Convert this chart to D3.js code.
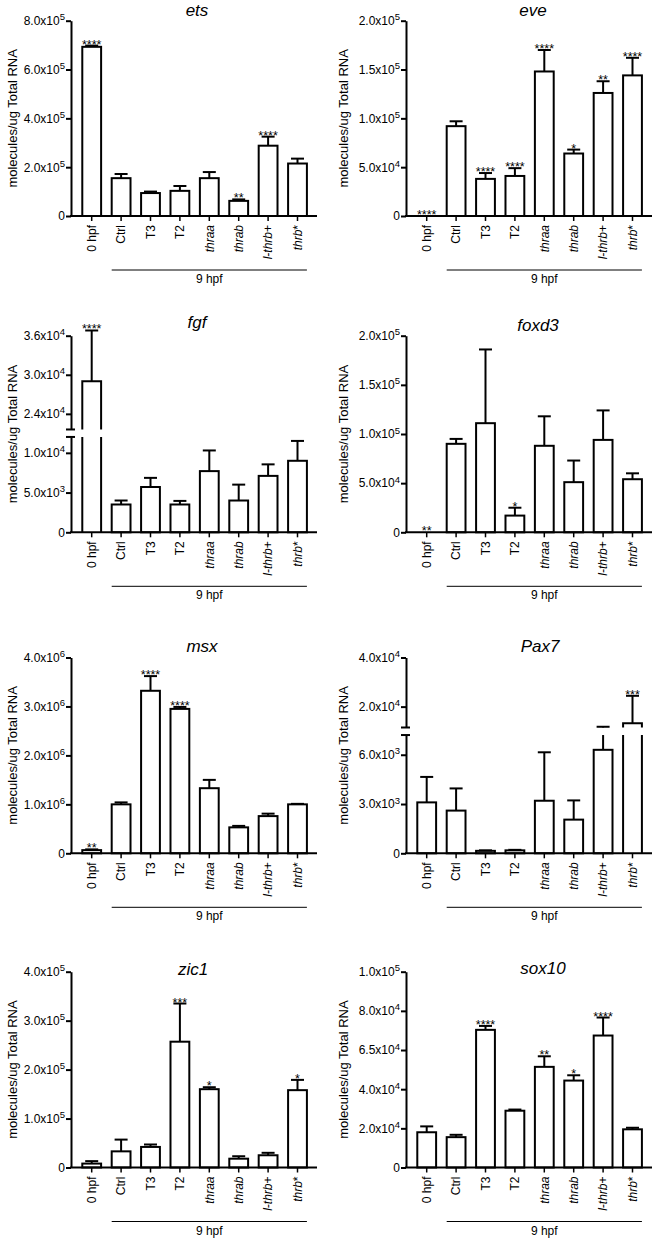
<!DOCTYPE html>
<html><head><meta charset="utf-8">
<script src="https://cdn.jsdelivr.net/npm/d3@7"></script>
<style>
body{margin:0;background:#fff}
svg{display:block;background:#fff}
text{font-family:"Liberation Sans",Arial,Helvetica,sans-serif;fill:#000}
</style>
</head><body>
<svg id="chart" width="655" height="1240"></svg>
<script>
// ---------------- DATA ----------------
const categories = ["0 hpf","Ctrl","T3","T2","thraa","thrab","l-thrb+","thrb*"];
const genes = ["ets","eve","fgf","foxd3","msx","Pax7","zic1","sox10"];
const groupLabel = "9 hpf";
const yAxisTitle = "molecules/ug Total RNA";

const etsMean = [693000,155000,94000,103000,155000,62000,288000,215000];
const etsErr  = [5000,17000,6000,20000,25000,6000,37000,20000];
const etsSig  = ["****","","","","","**","****",""];
const etsDomain = [[0,800000]];
const etsTicks = [[0,200000,400000,600000,800000]];
const etsTickLabels = [["0","2.0x10^5","4.0x10^5","6.0x10^5","8.0x10^5"]];

const eveMean = [0,92000,38000,41000,148000,64000,126000,144000];
const eveErr  = [0,5000,6000,8000,22000,4000,12000,18000];
const eveSig  = ["****","","****","****","****","*","**","****"];
const eveDomain = [[0,200000]];
const eveTicks = [[0,50000,100000,150000,200000]];
const eveTickLabels = [["0","5.0x10^4","1.0x10^5","1.5x10^5","2.0x10^5"]];

const fgfMean = [29000,3500,5700,3500,7700,4000,7100,9000];
const fgfErr  = [7800,500,1150,450,2600,2000,1450,2500];
const fgfSig  = ["****","","","","","","",""];
const fgfDomain = [[0,12000],[21600,36000]];
const fgfTicks = [[0,5000,10000],[24000,30000,36000]];
const fgfTickLabels = [["0","5.0x10^3","1.0x10^4"],["2.4x10^4","3.0x10^4","3.6x10^4"]];

const foxd3Mean = [0,90000,111000,17000,88000,51000,94000,54000];
const foxd3Err  = [0,5000,75000,8000,30000,22000,30000,6000];
const foxd3Sig  = ["**","","","*","","","",""];
const foxd3Domain = [[0,200000]];
const foxd3Ticks = [[0,50000,100000,150000,200000]];
const foxd3TickLabels = [["0","5.0x10^4","1.0x10^5","1.5x10^5","2.0x10^5"]];

const msxMean = [65000,1000000,3320000,2950000,1330000,530000,760000,1000000];
const msxErr  = [15000,40000,300000,40000,170000,30000,50000,10000];
const msxSig  = ["**","","****","****","","","",""];
const msxDomain = [[0,4000000]];
const msxTicks = [[0,1000000,2000000,3000000,4000000]];
const msxTickLabels = [["0","1.0x10^6","2.0x10^6","3.0x10^6","4.0x10^6"]];

const pax7Mean = [3100,2600,150,180,3200,2050,6300,13200];
const pax7Err  = [1550,1350,30,30,2950,1170,5500,11200];
const pax7Sig  = ["","","","","","","","***"];
const pax7Domain = [[0,7200],[11500,40000]];
const pax7Ticks = [[0,3000,6000],[20000,40000]];
const pax7TickLabels = [["0","3.0x10^3","6.0x10^3"],["2.0x10^4","4.0x10^4"]];

const zic1Mean = [8000,33000,42000,257000,160000,18000,25000,158000];
const zic1Err  = [5000,24000,5000,78000,4000,5000,5000,21000];
const zic1Sig  = ["","","","***","*","","","*"];
const zic1Domain = [[0,400000]];
const zic1Ticks = [[0,100000,200000,300000,400000]];
const zic1TickLabels = [["0","1.0x10^5","2.0x10^5","3.0x10^5","4.0x10^5"]];

const sox10Mean = [18000,15500,70300,29000,51400,44400,67400,19500];
const sox10Err  = [3000,1200,2000,600,5400,2700,9200,800];
const sox10Sig  = ["","","****","","**","*","****",""];
const sox10Domain = [[0,100000]];
const sox10Ticks = [[0,20000,40000,60000,80000,100000]];
const sox10TickLabels = [["0","2.0x10^4","4.0x10^4","6.5x10^4","8.0x10^4","1.0x10^5"]];

// ---------------- LAYOUT ----------------
const panels = [
  {mean:etsMean, err:etsErr, sig:etsSig, dom:etsDomain, ticks:etsTicks, tl:etsTickLabels},
  {mean:eveMean, err:eveErr, sig:eveSig, dom:eveDomain, ticks:eveTicks, tl:eveTickLabels},
  {mean:fgfMean, err:fgfErr, sig:fgfSig, dom:fgfDomain, ticks:fgfTicks, tl:fgfTickLabels, brk:[0.485,0.523]},
  {mean:foxd3Mean, err:foxd3Err, sig:foxd3Sig, dom:foxd3Domain, ticks:foxd3Ticks, tl:foxd3TickLabels},
  {mean:msxMean, err:msxErr, sig:msxSig, dom:msxDomain, ticks:msxTicks, tl:msxTickLabels},
  {mean:pax7Mean, err:pax7Err, sig:pax7Sig, dom:pax7Domain, ticks:pax7Ticks, tl:pax7TickLabels, brk:[0.604,0.6425]},
  {mean:zic1Mean, err:zic1Err, sig:zic1Sig, dom:zic1Domain, ticks:zic1Ticks, tl:zic1TickLabels},
  {mean:sox10Mean, err:sox10Err, sig:sox10Sig, dom:sox10Domain, ticks:sox10Ticks, tl:sox10TickLabels}
];
const colX = [71, 406];
const yLabelX = [17, 348];
const rowBase = [216, 532.3, 853.3, 1167.5];
const rowTop = [20.7, 335.7, 657.5, 971.7];
const titlePos = [[197,15.5],[533,15.5],[197,327.5],[538,330.5],[202,651.5],[540,651.5],[193,975],[543,973.5]];
const AX_LEN = 246, SW = 2;

const svg = d3.select("#chart");
svg.append("rect").attr("width",655).attr("height",1240).attr("fill","#fff");

function superscriptLabel(sel, lab){
  const parts = lab.split("^");
  sel.text(parts[0]);
  if (parts[1]) sel.append("tspan").attr("dy","-0.5em").attr("font-size","9.5px").text(parts[1]);
}
function catLabel(sel, lab){
  sel.text(null);
  const re = /(l-thrb|thraa|thrab|thrb)/;
  lab.split(re).filter(s=>s.length).forEach(s=>{
    sel.append("tspan").attr("font-style", re.test(s) ? "italic" : "normal").text(s);
  });
}

panels.forEach((p,i)=>{
  const col = i%2, row = Math.floor(i/2);
  const ax = colX[col], base = rowBase[row], top = rowTop[row], H = base-top;
  const g = svg.append("g");

  let segs;
  if (p.dom.length===1){
    segs = [d3.scaleLinear().domain(p.dom[0]).range([base, top])];
  } else {
    segs = [d3.scaleLinear().domain(p.dom[0]).range([base, base-H*p.brk[0]]),
            d3.scaleLinear().domain(p.dom[1]).range([base-H*p.brk[1], top])];
  }
  const segIdx = v => (segs.length===1 || v<=p.dom[0][1]) ? 0 : 1;
  const y = v => segs[segIdx(v)](v);

  const x = d3.scaleBand().domain(categories).range([ax+6, ax+241.2]).paddingInner(0.36).paddingOuter(0.18);
  const bw = x.bandwidth();

  categories.forEach((c,k)=>{
    const v = p.mean[k], e = p.err[k];
    const x0 = x(c), x1 = x0+bw, cx = x0+bw/2;
    if (v>0){
      if (segIdx(v)===0){
        g.append("rect").attr("x",x0).attr("y",y(v)).attr("width",bw).attr("height",base-y(v))
          .attr("fill","#fff").attr("stroke","#000").attr("stroke-width",SW);
      } else {
        const lt = segs[0].range()[1], ub = segs[1].range()[0];
        g.append("rect").attr("x",x0).attr("y",lt).attr("width",bw).attr("height",base-lt).attr("fill","#fff");
        g.append("path").attr("d",`M${x0},${base}V${lt}M${x1},${lt}V${base}`)
          .attr("fill","none").attr("stroke","#000").attr("stroke-width",SW);
        g.append("path").attr("d",`M${x0},${ub}V${y(v)}H${x1}V${ub}`)
          .attr("fill","#fff").attr("stroke","#000").attr("stroke-width",SW);
      }
    }
    let capY = y(v);
    if (e>0){
      const t = v+e;
      capY = y(t);
      if (segIdx(v)===segIdx(t)){
        g.append("line").attr("x1",cx).attr("x2",cx).attr("y1",y(v)).attr("y2",capY)
          .attr("stroke","#000").attr("stroke-width",SW);
      } else {
        const lt = segs[0].range()[1], ub = segs[1].range()[0];
        g.append("line").attr("x1",cx).attr("x2",cx).attr("y1",y(v)).attr("y2",lt)
          .attr("stroke","#000").attr("stroke-width",SW);
        g.append("line").attr("x1",cx).attr("x2",cx).attr("y1",ub).attr("y2",capY)
          .attr("stroke","#000").attr("stroke-width",SW);
      }
      g.append("line").attr("x1",cx-6.5).attr("x2",cx+6.5).attr("y1",capY).attr("y2",capY)
        .attr("stroke","#000").attr("stroke-width",SW);
    }
    if (p.sig[k]){
      g.append("text").attr("x",cx).attr("y",capY+3).attr("text-anchor","middle")
        .attr("font-size","12.5px").text(p.sig[k]);
    }
  });

  segs.forEach((s,si)=>{
    const ag = g.append("g").attr("transform",`translate(${ax},0)`)
      .call(d3.axisLeft(s).tickValues(p.ticks[si]).tickSize(5).tickSizeOuter(0).tickPadding(1));
    ag.select(".domain").attr("stroke-width",SW);
    ag.selectAll(".tick line").attr("stroke-width",SW);
    ag.attr("font-size",12).attr("font-family",null);
    ag.selectAll(".tick text").each(function(d,j){ superscriptLabel(d3.select(this), p.tl[si][j]); });
  });
  if (segs.length>1){
    [segs[0].range()[1], segs[1].range()[0]].forEach(by=>{
      g.append("line").attr("x1",ax-5).attr("x2",ax+4).attr("y1",by).attr("y2",by)
        .attr("stroke","#000").attr("stroke-width",SW);
    });
  }

  g.append("line").attr("x1",ax-1).attr("x2",ax+AX_LEN).attr("y1",base).attr("y2",base)
    .attr("stroke","#000").attr("stroke-width",SW);
  const xg = g.append("g").attr("transform",`translate(0,${base})`)
    .call(d3.axisBottom(x).tickSize(5).tickSizeOuter(0));
  xg.select(".domain").remove();
  xg.selectAll(".tick line").attr("stroke-width",1.5);
  xg.attr("font-size",12).attr("font-family",null);
  xg.selectAll(".tick text")
    .attr("transform","rotate(-90)").attr("x",-9).attr("y",0).attr("dy","0.35em")
    .attr("text-anchor","end")
    .each(function(d){ catLabel(d3.select(this), d); });

  const gx0 = x(categories[1]), gx1 = x(categories[7])+bw;
  g.append("line").attr("x1",gx0).attr("x2",gx1).attr("y1",base+54).attr("y2",base+54)
    .attr("stroke","#000").attr("stroke-width",1);
  g.append("text").attr("x",(gx0+gx1)/2).attr("y",base+67).attr("text-anchor","middle")
    .attr("font-size","12px").text(groupLabel);

  g.append("text").attr("transform",`translate(${yLabelX[col]},${(base+top)/2}) rotate(-90)`)
    .attr("text-anchor","middle").attr("font-size","13px").text(yAxisTitle);

  g.append("text").attr("x",titlePos[i][0]).attr("y",titlePos[i][1]).attr("text-anchor","middle")
    .attr("font-size","17px").attr("font-style","italic").text(genes[i]);
});
</script>
</body></html>
